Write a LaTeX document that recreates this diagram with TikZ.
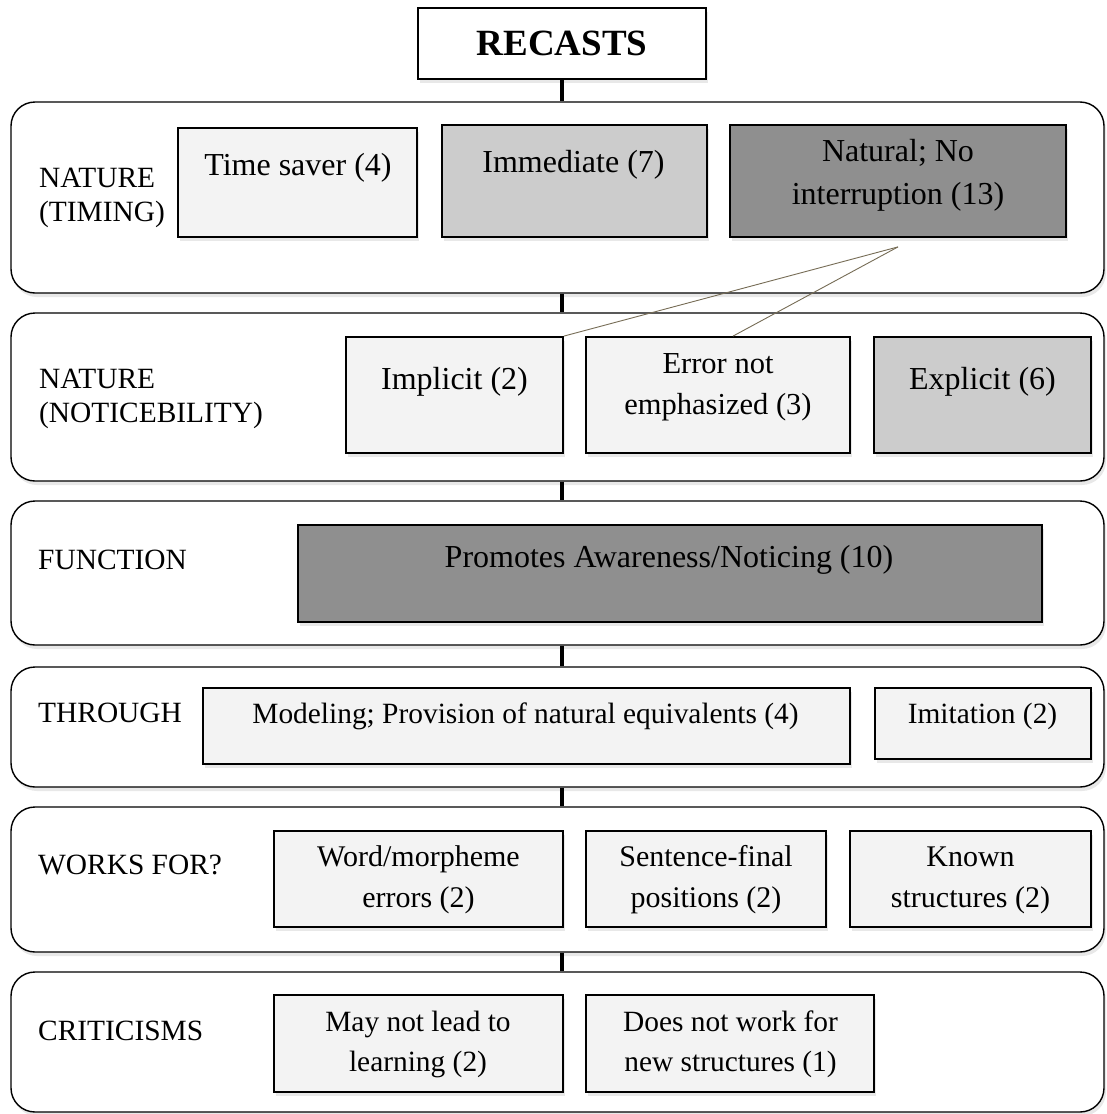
\documentclass[tikz,border=0pt]{standalone}
\usepackage{fontspec}
\setmainfont{Liberation Serif}
\usetikzlibrary{calc,shadows}
\definecolor{lightbox}{HTML}{F3F3F3}
\definecolor{midbox}{HTML}{CCCCCC}
\definecolor{darkbox}{HTML}{8F8F8F}
\definecolor{linkcol}{HTML}{766C55}
\begin{document}
\begin{tikzpicture}[x=1pt,y=-1pt,
  shade/.style={drop shadow={opacity=0.18,shadow xshift=2pt,shadow yshift=-4pt}},
  panel/.style={draw=black, line width=1.4pt, rounded corners=24pt, fill=white, inner sep=0pt, minimum width=1093, shade},
  cbox/.style={draw=black, line width=1.8pt, inner sep=0pt, shade},
  btxt/.style={font=\fontsize{30}{41}\selectfont, align=center, inner sep=0pt},
  btxtL/.style={btxt, font=\fontsize{32}{43}\selectfont},
  btxtM/.style={btxt, font=\fontsize{30.5}{41}\selectfont},
  btxtS/.style={btxt, font=\fontsize{29.4}{40}\selectfont},
  lbl/.style={font=\fontsize{29.4}{34}\selectfont, align=left, anchor=west, inner sep=0pt},
  conn/.style={line width=4pt},
  link/.style={draw=linkcol, line width=0.9pt}]
\useasboundingbox (0,0) rectangle (1106,1114);

% top box
\node[cbox, fill=white, minimum width=288, minimum height=71,
      font=\bfseries\fontsize{37}{40}\selectfont] (r) at (562,43.5) {RECASTS};

% panels
\node[panel, minimum height=191] (p1) at (557.5,197.5) {};
\node[panel, minimum height=168] (p2) at (557.5,397) {};
\node[panel, minimum height=144] (p3) at (557.5,573) {};
\node[panel, minimum height=120] (p4) at (557.5,727) {};
\node[panel, minimum height=145] (p5) at (557.5,879.5) {};
\node[panel, minimum height=140] (p6) at (557.5,1042) {};

% connectors
\draw[conn] (r.south) -- (r.south |- p1.north);
\draw[conn] (r.south |- p1.south) -- (r.south |- p2.north);
\draw[conn] (r.south |- p2.south) -- (r.south |- p3.north);
\draw[conn] (r.south |- p3.south) -- (r.south |- p4.north);
\draw[conn] (r.south |- p4.south) -- (r.south |- p5.north);
\draw[conn] (r.south |- p5.south) -- (r.south |- p6.north);

% labels
\node[lbl] (l1) at (39,197.5) {NATURE\\(TIMING)};
\node[lbl] (l2) at (39,398.5) {NATURE\\(NOTICEBILITY)};
\node[lbl] (l3) at (38,560) {FUNCTION};
\node[lbl] (l4) at (38,713) {THROUGH};
\node[lbl] (l5) at (38,865) {WORKS FOR?};
\node[lbl] (l6) at (38,1031) {CRITICISMS};

% row 1
\node[cbox, fill=lightbox, minimum width=239, minimum height=109] (ts) at (297.5,182.5) {};
\node[btxtL] (tst) at (298,168) {Time saver (4)};
\node[cbox, fill=midbox, minimum width=265, minimum height=112] (im) at (574.5,181) {};
\node[btxtL] (imt) at (573.5,165) {Immediate (7)};
\node[cbox, fill=darkbox, minimum width=336, minimum height=112] (na) at (898,181) {};
\node[btxtL] (nat) at (898,175.5) {Natural; No\\interruption (13)};

% row 2
\node[cbox, fill=lightbox, minimum width=217, minimum height=116] (ip) at (454.5,395) {};
\node[btxtL] (ipt) at (454.5,382) {Implicit (2)};
\node[cbox, fill=lightbox, minimum width=264, minimum height=116] (er) at (718,395) {};
\node[btxtM] (ert) at (718,387.5) {Error not\\emphasized (3)};
\node[cbox, fill=midbox, minimum width=217, minimum height=116] (ex) at (982.5,395) {};
\node[btxtL] (ext) at (982.5,382) {Explicit (6)};

% links
\coordinate (apex) at ($(na.south)+(0,9)$);
\draw[link] (apex) -- (ip.north east);
\draw[link] (apex) -- ($(er.north)+(15,0)$);

% row 3
\node[cbox, fill=darkbox, minimum width=744, minimum height=97] (pr) at (670,573.5) {};
\node[btxtL] (prt) at (669,560) {Promotes Awareness/Noticing (10)};

% row 4
\node[cbox, fill=lightbox, minimum width=647, minimum height=76] (mo) at (526.5,726) {};
\node[btxtS] (mot) at (525.5,716) {Modeling; Provision of natural equivalents (4)};
\node[cbox, fill=lightbox, minimum width=216, minimum height=71] (it) at (983,723.5) {};
\node[btxtS] (itt) at (982.5,716) {Imitation (2)};

% row 5
\node[cbox, fill=lightbox, minimum width=289, minimum height=96] (wo) at (418.5,879) {};
\node[btxt] (wot) at (418.5,880) {Word/morpheme\\errors (2)};
\node[cbox, fill=lightbox, minimum width=240, minimum height=96] (se) at (706,879) {};
\node[btxt] (set) at (706,880) {Sentence-final\\positions (2)};
\node[cbox, fill=lightbox, minimum width=241, minimum height=96] (kn) at (970.5,879) {};
\node[btxt] (knt) at (970.5,880) {Known\\structures (2)};

% row 6
\node[cbox, fill=lightbox, minimum width=289, minimum height=97] (ma) at (418.5,1043.5) {};
\node[btxtS] (mat) at (418,1044) {May not lead to\\learning (2)};
\node[cbox, fill=lightbox, minimum width=288, minimum height=97] (dn) at (730,1043.5) {};
\node[btxtS] (dnt) at (730.5,1044) {Does not work for\\new structures (1)};
\end{tikzpicture}
\end{document}
